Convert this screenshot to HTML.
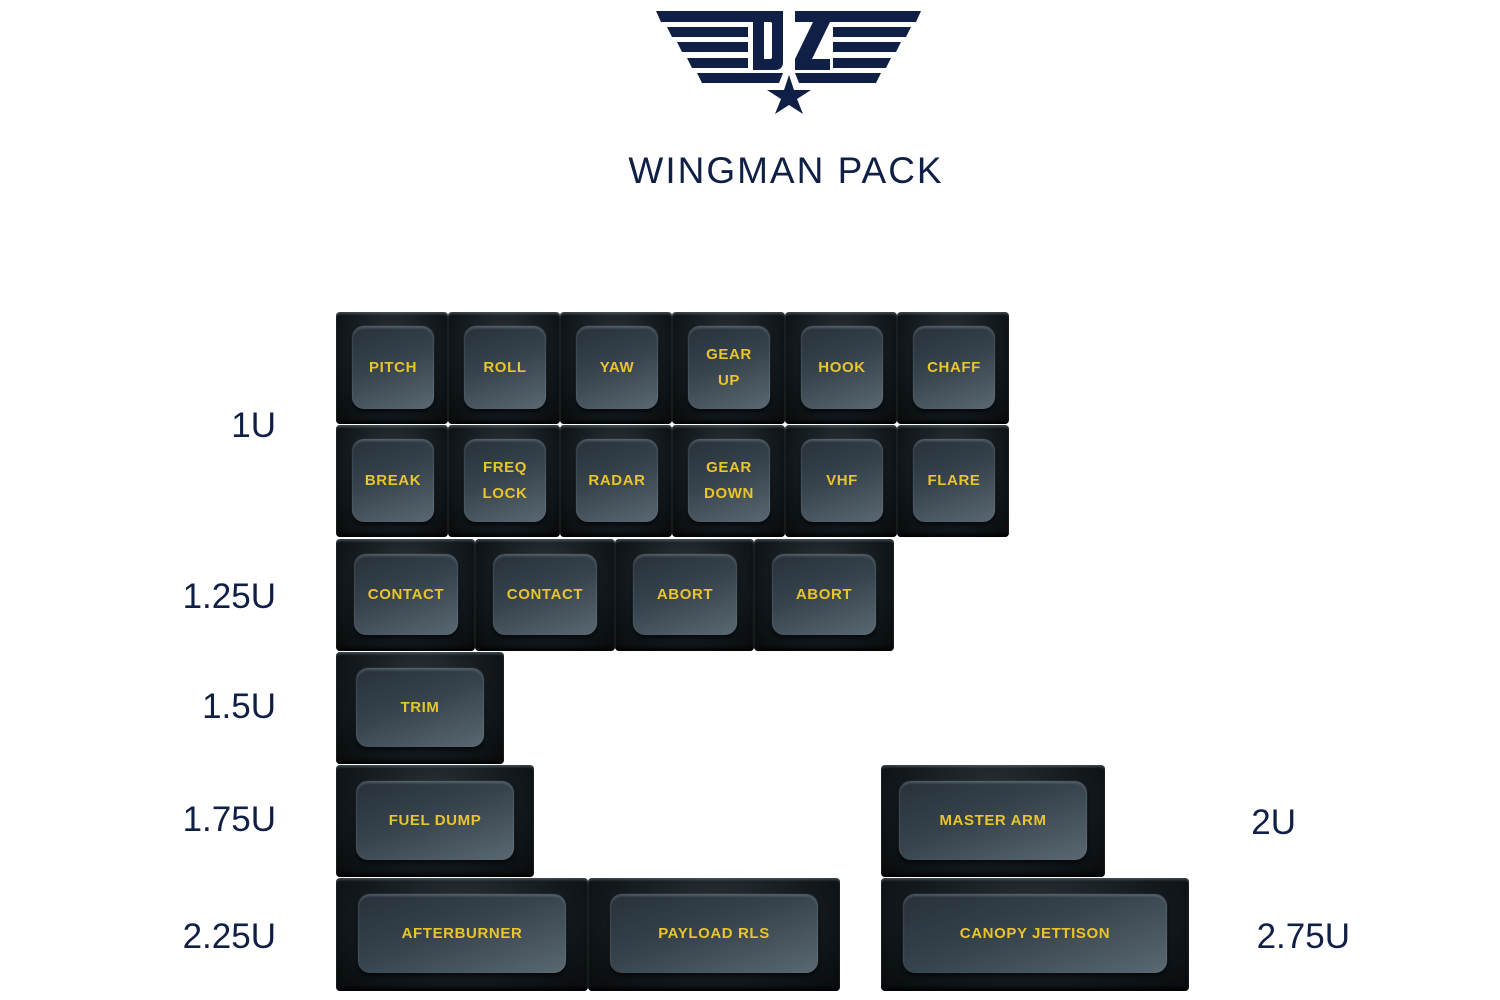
<!DOCTYPE html>
<html><head><meta charset="utf-8"><style>
*{margin:0;padding:0;box-sizing:border-box}
body{width:1500px;height:1000px;background:#fff;position:relative;overflow:hidden;font-family:"Liberation Sans",sans-serif}
.k{position:absolute;border-radius:4px;background:radial-gradient(ellipse at 50% 30%,#2a3338 0%,#12181c 60%,#080b0d 100%);box-shadow:inset 0 2px 2px rgba(150,165,175,.35),inset 0 -3px 3px rgba(0,0,0,.8)}
.t{position:absolute;border-radius:12px;background:linear-gradient(160deg,#27313a 0%,#36434c 45%,#5a6871 100%);box-shadow:0 -1px 1px rgba(170,185,195,.45),0 3px 4px rgba(0,0,0,.6),inset 0 1px 2px rgba(160,175,185,.35);display:flex;align-items:center;justify-content:center;text-align:center;color:#e9c42b;font-size:15px;font-weight:bold;letter-spacing:.6px;line-height:26px}
.l{position:absolute;color:#0f1f45;font-size:35px;text-align:right;width:200px}
</style></head><body>
<svg width="1500" height="130" style="position:absolute;left:0;top:0" viewBox="0 0 1500 130">
<g fill="#0f1f45">
<polygon points="656,11 783,11 783,22 661,22"/>
<polygon points="667,27 748,27 748,37 672,37"/>
<polygon points="677,42 748,42 748,52 682,52"/>
<polygon points="687,58 748,58 748,68 692,68"/>
<polygon points="697,73 783,73 779,83 702,83"/>
<path d="M753,11 h22 q8,0 8,8 v43 q0,8 -8,8 h-22 z M764,22 v37 h6 q2,0 2,-2 v-33 q0,-2 -2,-2 z" fill-rule="evenodd"/>
<polygon points="795,11 830,11 830,22 812,59 830,59 830,70 795,70 795,59 813,22 795,22"/>
<polygon points="921,11 830,11 830,22 916,22"/>
<polygon points="911,27 833,27 833,37 906,37"/>
<polygon points="901,42 833,42 833,52 896,52"/>
<polygon points="891,58 833,58 833,68 886,68"/>
<polygon points="881,73 795,73 799,83 876,83"/>
<polygon points="789,75 794,90 811,90 797,99 803,114 789,105 775,114 781,99 767,90 784,90"/>
</g>
</svg>
<div style="position:absolute;left:0;width:1572px;top:150px;text-align:center;font-size:37px;color:#0f1f45;letter-spacing:2px">WINGMAN PACK</div>

<div class="l" style="left:76px;top:406px">1U</div>
<div class="l" style="left:76px;top:577px">1.25U</div>
<div class="l" style="left:76px;top:687px">1.5U</div>
<div class="l" style="left:76px;top:800px">1.75U</div>
<div class="l" style="left:76px;top:917px">2.25U</div>
<div class="l" style="left:1096px;top:803px">2U</div>
<div class="l" style="left:1150px;top:917px">2.75U</div>

<div class="k" style="left:336px;top:312px;width:112px;height:112px"><div class="t" style="left:16px;top:15px;width:82px;height:82px">PITCH</div></div>
<div class="k" style="left:448px;top:312px;width:112px;height:112px"><div class="t" style="left:16px;top:15px;width:82px;height:82px">ROLL</div></div>
<div class="k" style="left:560px;top:312px;width:112px;height:112px"><div class="t" style="left:16px;top:15px;width:82px;height:82px">YAW</div></div>
<div class="k" style="left:672px;top:312px;width:113px;height:112px"><div class="t" style="left:16px;top:15px;width:82px;height:82px">GEAR<br>UP</div></div>
<div class="k" style="left:785px;top:312px;width:112px;height:112px"><div class="t" style="left:16px;top:15px;width:82px;height:82px">HOOK</div></div>
<div class="k" style="left:897px;top:312px;width:112px;height:112px"><div class="t" style="left:16px;top:15px;width:82px;height:82px">CHAFF</div></div>

<div class="k" style="left:336px;top:425px;width:112px;height:112px"><div class="t" style="left:16px;top:15px;width:82px;height:82px">BREAK</div></div>
<div class="k" style="left:448px;top:425px;width:112px;height:112px"><div class="t" style="left:16px;top:15px;width:82px;height:82px">FREQ<br>LOCK</div></div>
<div class="k" style="left:560px;top:425px;width:112px;height:112px"><div class="t" style="left:16px;top:15px;width:82px;height:82px">RADAR</div></div>
<div class="k" style="left:672px;top:425px;width:113px;height:112px"><div class="t" style="left:16px;top:15px;width:82px;height:82px">GEAR<br>DOWN</div></div>
<div class="k" style="left:785px;top:425px;width:112px;height:112px"><div class="t" style="left:16px;top:15px;width:82px;height:82px">VHF</div></div>
<div class="k" style="left:897px;top:425px;width:112px;height:112px"><div class="t" style="left:16px;top:15px;width:82px;height:82px">FLARE</div></div>

<div class="k" style="left:336px;top:539px;width:139px;height:112px"><div class="t" style="left:18px;top:16px;width:104px;height:80px">CONTACT</div></div>
<div class="k" style="left:475px;top:539px;width:140px;height:112px"><div class="t" style="left:18px;top:16px;width:104px;height:80px">CONTACT</div></div>
<div class="k" style="left:615px;top:539px;width:139px;height:112px"><div class="t" style="left:18px;top:16px;width:104px;height:80px">ABORT</div></div>
<div class="k" style="left:754px;top:539px;width:140px;height:112px"><div class="t" style="left:18px;top:16px;width:104px;height:80px">ABORT</div></div>

<div class="k" style="left:336px;top:652px;width:168px;height:112px"><div class="t" style="left:20px;top:17px;width:128px;height:78px">TRIM</div></div>
<div class="k" style="left:336px;top:765px;width:198px;height:112px"><div class="t" style="left:20px;top:17px;width:158px;height:78px">FUEL DUMP</div></div>
<div class="k" style="left:881px;top:765px;width:224px;height:112px"><div class="t" style="left:18px;top:17px;width:188px;height:78px">MASTER ARM</div></div>

<div class="k" style="left:336px;top:878px;width:252px;height:113px"><div class="t" style="left:22px;top:17px;width:208px;height:78px">AFTERBURNER</div></div>
<div class="k" style="left:588px;top:878px;width:252px;height:113px"><div class="t" style="left:22px;top:17px;width:208px;height:78px">PAYLOAD RLS</div></div>
<div class="k" style="left:881px;top:878px;width:308px;height:113px"><div class="t" style="left:22px;top:17px;width:264px;height:78px">CANOPY JETTISON</div></div>
</body></html>
